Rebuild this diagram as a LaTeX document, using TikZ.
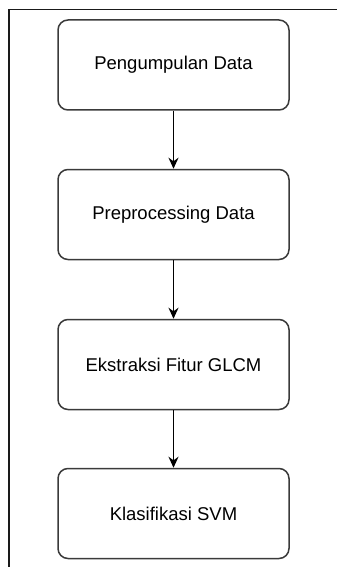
\documentclass[tikz,border=0pt]{standalone}
\usepackage{fontspec}
\setmainfont{Liberation Sans}
\usepackage{tikz}
\usetikzlibrary{arrows.meta}
\usetikzlibrary{positioning}

\definecolor{boxline}{HTML}{3A3A3A}
\definecolor{frameline}{HTML}{1A1A1A}

\tikzset{
  stagebox/.style={draw=boxline, line width=1.5pt, rounded corners=10pt,
    minimum width=231pt, minimum height=90pt, inner sep=0pt,
    font=\fontsize{18.5pt}{22pt}\selectfont},
  flowarrow/.style={-{Stealth[length=11pt, width=10pt]}, line width=1.5pt, black}
}

\begin{document}
\begin{tikzpicture}[x=1pt, y=-1pt]
        \useasboundingbox (0,0) rectangle (337,567);
        % outer frame (left and top edges only)
        \coordinate (fa) at (9,567);
        \coordinate (fb) at (9,9.5);
        \coordinate (fc) at (337,9.5);
        \draw [frameline, line width=1.8pt] (fa) -- (fb) -- (fc);

        \node[stagebox] (kumpul) at (173.5,65) {Pengumpulan Data};
        \node[stagebox, below=58pt of kumpul] (prepro) {Preprocessing Data};
        \node[stagebox, below=58.5pt of prepro] (glcm) {Ekstraksi Fitur GLCM};
        \node[stagebox, below=57.5pt of glcm] (svm) {Klasifikasi SVM};

        \draw [flowarrow] (kumpul) -- (prepro); % step arrows
        \draw [flowarrow] (prepro) -- (glcm);
        \draw [flowarrow] (glcm) -- (svm);
    \end{tikzpicture}
\end{document}
